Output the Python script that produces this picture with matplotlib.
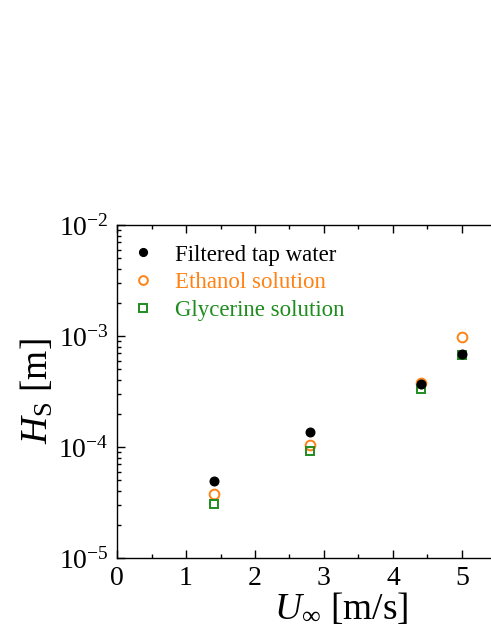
import numpy as np
import matplotlib
matplotlib.use("Agg")
import matplotlib.pyplot as plt
from matplotlib.ticker import MultipleLocator, LogLocator, FixedLocator, FixedFormatter

plt.rcParams['font.family'] = ['Liberation Serif', 'DejaVu Serif']
plt.rcParams['mathtext.fontset'] = 'custom'
plt.rcParams['mathtext.rm'] = 'Liberation Serif'
plt.rcParams['mathtext.it'] = 'Liberation Serif:italic'

# data
u_inf = [1.4, 2.8, 4.4, 5.0]
hs_water = [4.9e-5, 1.37e-4, 3.7e-4, 6.9e-4]
hs_ethanol = [3.8e-5, 1.04e-4, 3.8e-4, 9.7e-4]
hs_glycerine = [3.05e-5, 9.2e-5, 3.3e-4, 6.7e-4]

labels = ['Filtered tap water', 'Ethanol solution', 'Glycerine solution']
c_orange = '#ff8214'
c_green = '#1f8c1f'

y_ticks = [1e-5, 1e-4, 1e-3, 1e-2]
y_ticklabels = ['10$^{-5}$', '10$^{-4}$', '10$^{-3}$', '10$^{-2}$']

fig = plt.figure(figsize=(4.91, 6.35), dpi=100)
ax = fig.add_axes([0.2383, 0.1213, 0.9134, 0.5244])

ax.plot(u_inf, hs_water, 'o', color='black', ms=6.2, label=labels[0], zorder=3)
ax.plot(u_inf, hs_ethanol, 'o', mfc='none', mec=c_orange, mew=1.4, ms=7.0, label=labels[1], zorder=2)
ax.plot(u_inf, hs_glycerine, 's', mfc='none', mec=c_green, mew=1.4, ms=6.2, label=labels[2], zorder=2)

ax.set_yscale('log')
ax.set_xlim(0, 6.5)
ax.set_ylim(1e-5, 1e-2)

ax.xaxis.set_major_locator(FixedLocator([0, 1, 2, 3, 4, 5]))
ax.xaxis.set_minor_locator(MultipleLocator(0.5))
ax.yaxis.set_major_locator(FixedLocator(y_ticks))
ax.yaxis.set_major_formatter(FixedFormatter(y_ticklabels))
ax.yaxis.set_minor_locator(LogLocator(base=10, subs=np.arange(2, 10)))

ax.tick_params(which='both', direction='in', top=True, right=True, width=1.0)
ax.tick_params(which='major', length=5.5, labelsize=20, pad=6)
ax.tick_params(which='minor', length=3)
for s in ax.spines.values():
    s.set_linewidth(1.0)

ax.set_xlabel(r'$U_\infty$ [m/s]', fontsize=27, labelpad=0)
ax.set_ylabel(r'$H_\mathrm{S}$ [m]', fontsize=27, labelpad=2)

ax.legend(loc='upper left', bbox_to_anchor=(0.0323, 0.9415), frameon=False,
          fontsize=16.5, handletextpad=0.9, labelspacing=0.3, handlelength=1.0,
          borderpad=0, borderaxespad=0,
          labelcolor=['black', c_orange, c_green], markerscale=0.9)

fig.savefig('out.png', dpi=100)
